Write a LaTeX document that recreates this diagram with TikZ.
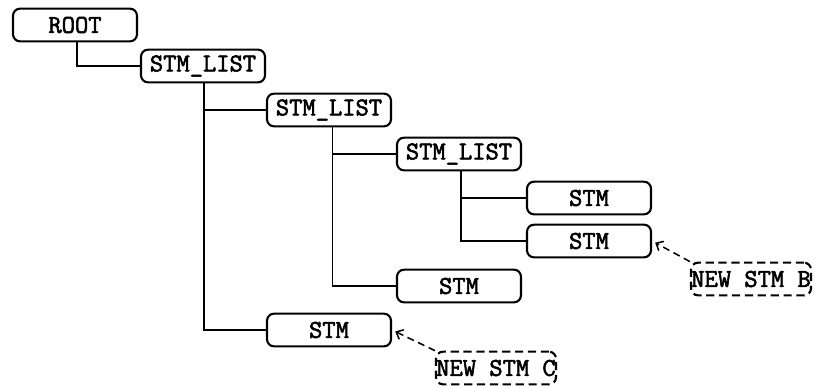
\documentclass[tikz,border=0pt]{standalone}
\usepackage{fontspec}
\setmonofont{Latin Modern Mono}[AutoFakeBold=2.2]
\usetikzlibrary{
    arrows.meta % For arrow tips
}

\begin{document}
\begin{tikzpicture}[
    x=0.03cm, y=-0.03cm,
    >={Straight Barb[length=5pt, width=9pt]}, % Set default arrow tip style
    treebox/.style={draw, line width=1.8pt, rounded corners=6pt,
        minimum width=3.72cm, minimum height=0.98cm, inner sep=0pt,
        font=\ttfamily\bfseries\fontsize{22}{24}\selectfont}, % Tree nodes
    newbox/.style={treebox, dash pattern=on 7pt off 4pt,
        minimum width=3.6cm}, % Nodes to insert
    branch/.style={line width=1.6pt}, % Tree edges
    hint/.style={->, dash pattern=on 6pt off 4pt, line width=1.3pt,
        shorten >=3pt} % Insert arrows
]

    % Bounding box of the picture
    \useasboundingbox (0,0) rectangle (817,387);

    % Tree nodes
    \node[treebox] (root)  at (75, 25)  {ROOT};
    \node[treebox] (listA) at (203, 66) {STM\_LIST};
    \node[treebox] (listB) at (329, 110) {STM\_LIST};
    \node[treebox] (listC) at (459, 154) {STM\_LIST};
    \node[treebox] (stmA)  at (589, 198) {STM};
    \node[treebox] (stmB)  at (589, 241) {STM};
    \node[treebox] (stmC)  at (459, 286) {STM};
    \node[treebox] (stmD)  at (329, 330) {STM};

    % New statements
    \node[newbox] (newB) at (751, 279) {NEW STM B};
    \node[newbox] (newC) at (496, 368) {NEW STM C};

    % Tree edges
    \draw[branch] ([xshift=2pt]root.south) |- (listA.west);
    \draw[branch] ([xshift=1pt]listA.south) |- (listB.west);
    \draw[branch] ([xshift=1pt]listA.south) |- (stmD.west);
    \draw[branch] ([xshift=3pt]listB.south) |- (listC.west);
    \draw[branch] ([xshift=3pt]listB.south) |- (stmC.west);
    \draw[branch] ([xshift=2pt]listC.south) |- (stmA.west);
    \draw[branch] ([xshift=2pt]listC.south) |- (stmB.west);

    % Insert positions
    \draw[hint] (newB.north west) -- (stmB.east);
    \draw[hint] (newC.north west) -- (stmD.east);

\end{tikzpicture}
\end{document}
